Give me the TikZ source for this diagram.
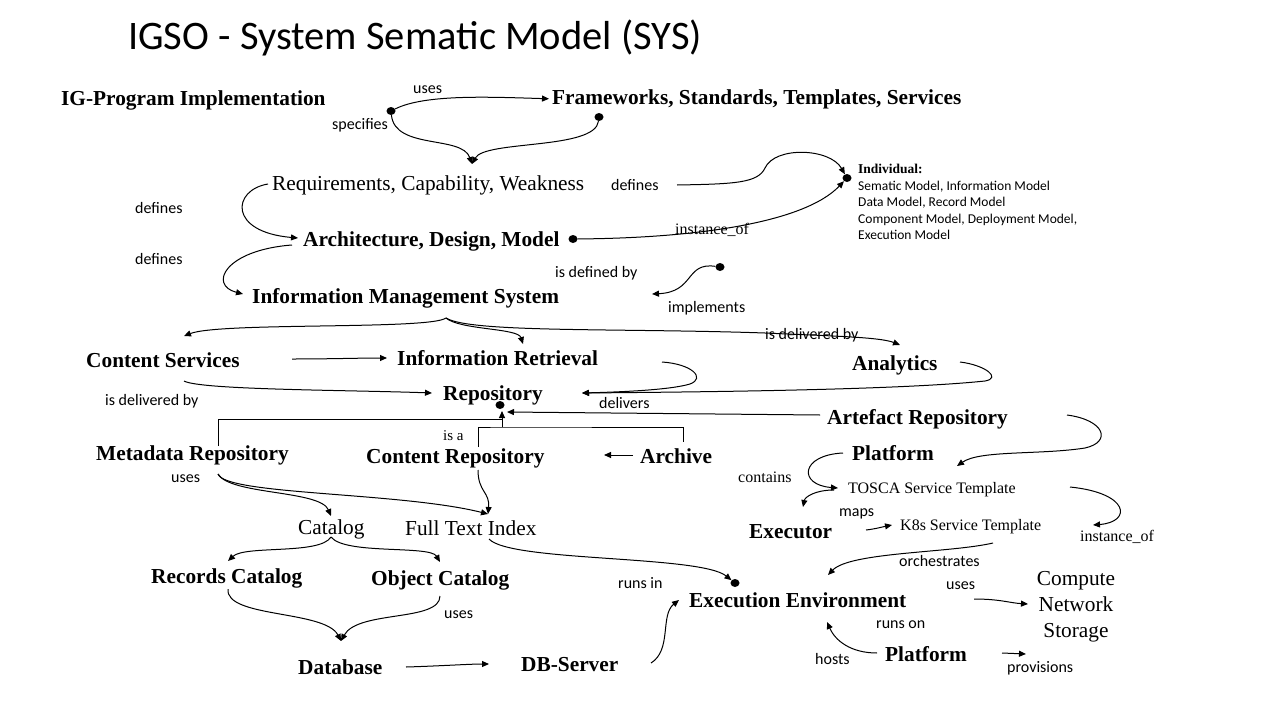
\documentclass[tikz,border=0pt]{standalone}
\usepackage{fontspec}
\setmainfont{Liberation Serif}
\newfontfamily\calfont{Carlito}
\usetikzlibrary{arrows.meta,shapes.geometric}
\begin{document}
\begin{tikzpicture}[x=1pt,y=-1pt,
  bl/.style={font=\fontsize{21.33}{24}\selectfont\bfseries, inner sep=0pt, anchor=base west},
  rl/.style={font=\fontsize{21.33}{24}\selectfont, inner sep=0pt, anchor=base west},
  sl/.style={font=\calfont\fontsize{16}{18}\selectfont, inner sep=0pt, anchor=base west},
  tl/.style={font=\fontsize{16}{18}\selectfont, inner sep=0pt, anchor=base west},
  dotn/.style={ellipse, fill=black, inner sep=0pt, minimum width=9pt, minimum height=8pt},
  conn/.style={draw=black, line width=1pt},
  arr/.style={conn, -{Triangle[length=7pt,width=6pt]}},
]
\useasboundingbox (0,0) rectangle (1280,720);
\fill[white] (0,0) rectangle (1280,720);

% ---------- title
\node[font=\calfont\fontsize{40.5}{44}\selectfont, inner sep=0pt, anchor=base west] (title) at (128,49) {IGSO - System Sematic Model (SYS)};

% ---------- nodes
\node[bl] (igp) at (61,105) {IG-Program Implementation};
\node[bl] (fw) at (552,104) {Frameworks, Standards, Templates, Services};
\node[rl] (req) at (272,190) {Requirements, Capability, Weakness};
\node[bl] (arch) at (303,246) {Architecture, Design, Model};
\node[bl] (ims) at (252,303) {Information Management System};
\node[bl] (cs) at (86,367) {Content Services};
\node[bl] (ir) at (397,365) {Information Retrieval};
\node[bl] (ana) at (852,370) {Analytics};
\node[bl] (repo) at (443,400) {Repository};
\node[bl] (artrep) at (827,424) {Artefact Repository};
\node[bl] (mdr) at (96,460) {Metadata Repository};
\node[bl] (crep) at (366,463) {Content Repository};
\node[bl] (archive) at (640,463) {Archive};
\node[bl] (plat1) at (852,460) {Platform};
\node[tl] (tosca) at (848,493) {TOSCA Service Template};
\node[bl] (exe) at (749,538) {Executor};
\node[tl] (k8s) at (900,530) {K8s Service Template};
\node[rl] (cat) at (298,534) {Catalog};
\node[rl] (fti) at (405,535) {Full Text Index};
\node[bl] (rc) at (151,583) {Records Catalog};
\node[bl] (oc) at (371,585) {Object Catalog};
\node[bl] (db) at (298,674) {Database};
\node[bl] (dbs) at (521,671) {DB-Server};
\node[bl] (ee) at (689,607) {Execution Environment};
\node[bl] (plat2) at (885,661) {Platform};
\node[align=center, inner sep=0pt, anchor=north, font=\fontsize{21.33}{26}\selectfont] (cns) at (1076,571) {Compute\\Network\\Storage};
\node[inner sep=0pt, anchor=north west, align=left, font=\calfont\fontsize{13.5}{16.6}\selectfont] (indiv) at (858,164)
  {{\rmfamily\bfseries Individual:}\\Sematic Model, Information Model\\Data Model, Record Model\\Component Model, Deployment Model,\\Execution Model};

% ---------- labels
\node[sl] (l_uses1) at (413,93) {uses};
\node[sl] (l_spec) at (332,129) {specifies};
\node[sl] (l_def1) at (611,190) {defines};
\node[sl] (l_def2) at (135,213) {defines};
\node[sl] (l_def3) at (135,264) {defines};
\node[tl] (l_inst1) at (675,234) {instance\_of};
\node[sl] (l_isdef) at (555,277) {is defined by};
\node[sl] (l_impl) at (668,312) {implements};
\node[sl] (l_isdel1) at (765,339) {is delivered by};
\node[sl] (l_isdel2) at (105,405) {is delivered by};
\node[sl] (l_deliv) at (599,408) {delivers};
\node[font=\fontsize{15}{17}\selectfont, inner sep=0pt, anchor=base west] (l_isa) at (443,440) {is a};
\node[sl] (l_uses2) at (171,482) {uses};
\node[tl] (l_contains) at (738,482) {contains};
\node[sl] (l_maps) at (839,516) {maps};
\node[tl] (l_inst2) at (1080,541) {instance\_of};
\node[sl] (l_orch) at (899,566) {orchestrates};
\node[sl] (l_uses3) at (946,589) {uses};
\node[sl] (l_runsin) at (618,588) {runs in};
\node[sl] (l_uses4) at (444,618) {uses};
\node[sl] (l_runson) at (876,628) {runs on};
\node[sl] (l_hosts) at (815,664) {hosts};
\node[sl] (l_prov) at (1007,672) {provisions};

% ---------- dots
\node[dotn] (d1) at (391,111) {};
\node[dotn] (d2) at (599,117) {};
\node[dotn] (d3) at (847,178) {};
\node[dotn] (d4) at (573,239) {};
\node[dotn] (d5) at (720,267) {};
\node[dotn] (d6) at (500,405) {};
\node[dotn] (d7) at (735,583) {};

% ---------- junction / free-end coordinates
\coordinate (j1) at (472,164);
\coordinate (defs) at (677,185);
\coordinate (reqw) at (268,184);
\coordinate (archw) at (298,238);
\coordinate (archsw) at (292,245);
\coordinate (imsw) at (243,294);
\coordinate (implend) at (652,294);
\coordinate (imsb) at (446,318);
\coordinate (cstip) at (184,336);
\coordinate (irtip) at (523,344);
\coordinate (anatip) at (900,345);
\coordinate (cse) at (292,359);
\coordinate (irw) at (387,358);
\coordinate (csb) at (184,381);
\coordinate (repow) at (432,393);
\coordinate (repoe) at (582,393);
\coordinate (ire) at (662,362);
\coordinate (anae) at (960,362);
\coordinate (artw) at (820,415);
\coordinate (junr) at (507,412);
\coordinate (stemb) at (502,427);
\coordinate (stemt) at (502,411);
\coordinate (mdrt) at (218,446);
\coordinate (crept) at (478,447);
\coordinate (archt) at (683,442);
\coordinate (archivew) at (633,455);
\coordinate (archivetip) at (604,455);
\coordinate (mdrb) at (218,474);
\coordinate (cattip) at (331,516);
\coordinate (ftitip) at (488,514);
\coordinate (crepb) at (478,470);
\coordinate (catb) at (331,537);
\coordinate (rctip) at (228,561);
\coordinate (octip) at (440,562);
\coordinate (rcb) at (228,589);
\coordinate (ocb) at (440,596);
\coordinate (dbtip) at (341,641);
\coordinate (dbe) at (406,667);
\coordinate (dbstip) at (489,664);
\coordinate (dbse) at (651,663);
\coordinate (eetip1) at (679,600);
\coordinate (ftib) at (489,539);
\coordinate (arte) at (1067,415);
\coordinate (plattip) at (957,466);
\coordinate (platw) at (843,453);
\coordinate (toscatip) at (838,488);
\coordinate (exes) at (834,490);
\coordinate (exetip) at (803,507);
\coordinate (mapss) at (866,530);
\coordinate (k8stip) at (892,525);
\coordinate (toscae) at (1070,487);
\coordinate (insttip) at (1093,525);
\coordinate (k8sb) at (993,543);
\coordinate (eetip2) at (828,575);
\coordinate (usess) at (974,599);
\coordinate (cnstip) at (1028,604);
\coordinate (plat2w) at (877,653);
\coordinate (eetip3) at (827,622);
\coordinate (prov1) at (1002,653);
\coordinate (prov2) at (1026,654);

% ---------- connectors
\draw[arr, shorten >=3pt] (d1) .. controls (425,94) and (490,97) .. (fw.west);
\draw[arr] (d1) .. controls (395,150) and (462,135) .. (j1);
\draw[arr] (d2) .. controls (595,150) and (485,140) .. (j1);
\draw[arr] (defs) .. controls (735,184) and (758,183) .. (765,168) .. controls (775,146) and (830,148) .. (d3);
\draw[arr] (d4) .. controls (700,238) and (805,222) .. (d3);
\draw[arr] (reqw) .. controls (232,190) and (228,232) .. (archw);
\draw[arr] (archsw) .. controls (225,250) and (208,285) .. (imsw);
\draw[arr] (d5) .. controls (685,262) and (695,292) .. (implend);

\draw[arr] (imsb) .. controls (430,330) and (220,322) .. (cstip);
\draw[arr] (imsb) .. controls (460,330) and (518,328) .. (irtip);
\draw[arr] (imsb) .. controls (470,333) and (620,328) .. (765,333) .. controls (830,336) and (880,337) .. (anatip);
\draw[arr] (cse) .. controls (330,359) and (360,358) .. (irw);
\draw[arr] (csb) .. controls (200,390) and (350,390) .. (repow);
\draw[arr] (ire) .. controls (692,364) and (706,378) .. (690,384) .. controls (670,390) and (620,392) .. (repoe);
\draw[arr] (anae) .. controls (985,365) and (1002,378) .. (985,381) .. controls (900,390) and (700,392) .. (repoe);

\draw[arr] (artw) -- (junr);
\draw[conn] (mdrt) |- (stemt |- 0,419);
\draw[conn] (crept) |- (stemb) -| (archt);
\draw[arr] (stemb) -- (stemt);
\draw[arr] (archivew) -- (archivetip);

\draw[arr] (mdrb) .. controls (230,495) and (320,490) .. (cattip);
\draw[arr] (mdrb) .. controls (225,495) and (400,492) .. (ftitip);
\draw[arr] (crepb) .. controls (478,492) and (490,492) .. (ftitip);
\draw[arr] (catb) .. controls (320,555) and (245,545) .. (rctip);
\draw[arr] (catb) .. controls (345,555) and (430,545) .. (octip);
\draw[arr] (rcb) .. controls (225,618) and (325,610) .. (dbtip);
\draw[arr] (ocb) .. controls (440,622) and (358,610) .. (dbtip);
\draw[arr] (dbe) .. controls (440,666) and (470,664) .. (dbstip);
\draw[arr] (dbse) .. controls (672,650) and (660,615) .. (eetip1);
\draw[arr] (ftib) .. controls (510,562) and (700,555) .. (d7);

\draw[arr] (arte) .. controls (1105,420) and (1112,442) .. (1085,448) .. controls (1040,455) and (980,450) .. (plattip);
\draw[arr] (platw) .. controls (800,455) and (798,485) .. (toscatip);
\draw[arr] (exes) .. controls (815,490) and (805,497) .. (exetip);
\draw[arr] (mapss) .. controls (875,529) and (882,527) .. (k8stip);
\draw[arr] (toscae) .. controls (1130,493) and (1132,522) .. (insttip);
\draw[arr] (k8sb) .. controls (950,553) and (850,552) .. (eetip2);
\draw[arr] (usess) .. controls (1000,599) and (1010,603) .. (cnstip);
\draw[arr] (plat2w) .. controls (850,653) and (835,640) .. (eetip3);
\draw[arr] (prov1) -- (prov2);
\end{tikzpicture}
\end{document}
